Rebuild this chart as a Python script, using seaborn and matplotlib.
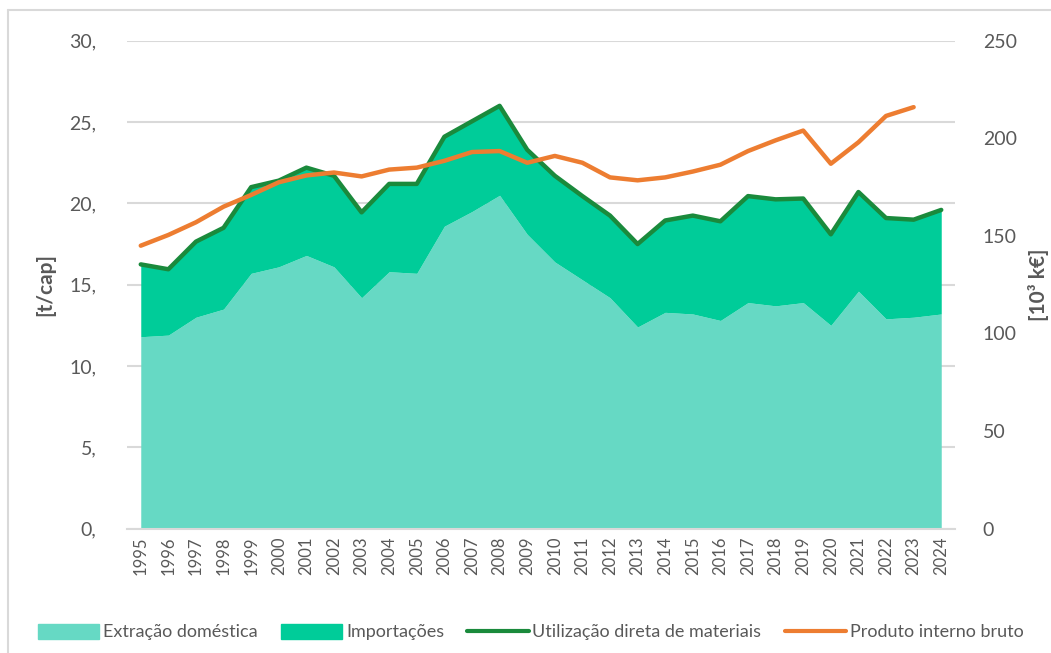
import numpy as np
import pandas as pd
import matplotlib.pyplot as plt
import seaborn as sns
from matplotlib.patches import Patch
from matplotlib.lines import Line2D
from matplotlib.ticker import FuncFormatter, MultipleLocator


years = list(range(1995, 2025))

# t/cap
extracao = [11.8, 11.9, 13.0, 13.5, 15.7, 16.1, 16.8, 16.1, 14.2, 15.8,
            15.7, 18.6, 19.5, 20.5, 18.1, 16.4, 15.3, 14.2, 12.4, 13.3,
            13.2, 12.8, 13.9, 13.7, 13.9, 12.5, 14.6, 12.9, 13.0, 13.2]
utilizacao = [16.25, 15.95, 17.65, 18.5, 21.0, 21.4, 22.2, 21.7, 19.45, 21.2,
              21.2, 24.1, 25.05, 26.0, 23.3, 21.7, 20.45, 19.25, 17.5, 18.95,
              19.25, 18.9, 20.45, 20.25, 20.3, 18.1, 20.7, 19.1, 19.0, 19.6]
importacoes = [u - e for u, e in zip(utilizacao, extracao)]

# 10^3 k€
pib_anos = list(range(1995, 2024))
pib = [145, 150.5, 157, 165, 171, 177.5, 181, 182.5, 180.5, 184,
       185, 188.5, 193, 193.5, 187.5, 191, 187.5, 180, 178.5, 180,
       183, 186.5, 193.5, 199, 204, 187, 198, 211.5, 216]

df = pd.DataFrame({"ano": years, "extracao": extracao,
                   "importacoes": importacoes, "utilizacao": utilizacao})
df_pib = pd.DataFrame({"ano": pib_anos, "pib": pib})

c_extr = "#66D9C4"
c_imp = "#00CC99"
c_util = "#1A8A3C"
c_pib = "#ED7D31"
c_grid = "#D9D9D9"
c_txt = "#595959"

sns.set_style("white")
plt.rcParams['font.family'] = ['Lato', 'DejaVu Sans']

fig = plt.figure(figsize=(10.51, 6.53), dpi=100)
ax = fig.add_axes([0.1208, 0.1905, 0.7879, 0.747])

ax.stackplot(df["ano"], df["extracao"], df["importacoes"],
             colors=[c_extr, c_imp], linewidth=0)
sns.lineplot(data=df, x="ano", y="utilizacao", ax=ax, color=c_util,
             linewidth=3.2, legend=False)

ax.set_xlim(1994.5, 2024.5)
ax.set_ylim(0, 30)
ax.yaxis.set_major_locator(MultipleLocator(5))
ax.yaxis.set_major_formatter(FuncFormatter(lambda v, p: f"{v:.0f},"))
ax.set_xticks(years)
ax.set_xticklabels([str(a) for a in years], rotation=90)
ax.grid(axis="y", color=c_grid, linewidth=1.5)
ax.set_axisbelow(True)
for s in ["top", "right", "left"]:
    ax.spines[s].set_visible(False)
ax.spines["bottom"].set_color(c_grid)
ax.spines["bottom"].set_linewidth(1.5)
ax.tick_params(axis="y", length=0, labelsize=14, colors=c_txt, pad=22)
ax.tick_params(axis="x", length=0, labelsize=12, colors=c_txt, pad=6)
ax.set_xlabel("")
ax.set_ylabel("[t/cap]", fontsize=15, fontweight="bold", color=c_txt, labelpad=10)

ax2 = ax.twinx()
sns.lineplot(data=df_pib, x="ano", y="pib", ax=ax2, color=c_pib,
             linewidth=3.2, legend=False)
ax2.set_ylim(0, 250)
ax2.yaxis.set_major_locator(MultipleLocator(50))
for s in ["top", "right", "left", "bottom"]:
    ax2.spines[s].set_visible(False)
ax2.tick_params(axis="y", length=0, labelsize=14, colors=c_txt, pad=20)
ax2.set_ylabel("[10³ k€]", fontsize=15, fontweight="bold", color=c_txt, labelpad=8)

handles = [Patch(color=c_extr), Patch(color=c_imp),
           Line2D([], [], color=c_util, linewidth=3),
           Line2D([], [], color=c_pib, linewidth=3)]
labels = ["Extração doméstica", "Importações",
          "Utilização direta de materiais", "Produto interno bruto"]
fig.legend(handles, labels, loc="center", bbox_to_anchor=(0.505, 0.032),
           ncol=4, frameon=False, fontsize=13, handlelength=3.4,
           handleheight=0.9, handletextpad=0.2, columnspacing=1.3,
           labelcolor=c_txt)

# chart-area border (only top and left edges are inside the crop)
fig.add_artist(Line2D([0.0076, 1.0], [0.985, 0.985], transform=fig.transFigure,
                      color=c_grid, linewidth=1.5))
fig.add_artist(Line2D([0.0076, 0.0076], [0.0, 0.985], transform=fig.transFigure,
                      color=c_grid, linewidth=1.5))

fig.savefig("out.png", dpi=100)
